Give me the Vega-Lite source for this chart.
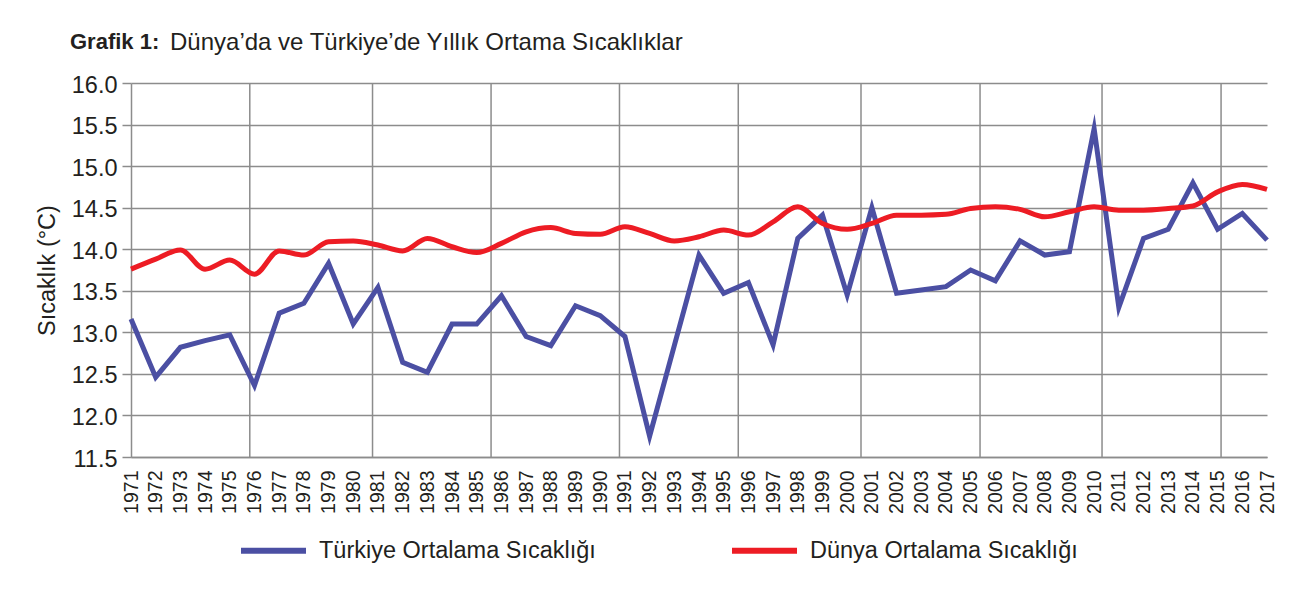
{
  "$schema": "https://vega.github.io/schema/vega-lite/v6.json",
  "width": 1136,
  "height": 374,
  "autosize": {"type": "none"},
  "padding": {"left": 131, "top": 83, "right": 33, "bottom": 133},
  "background": "white",
  "title": {
    "text": "Grafik 1:",
    "subtitle": "\u200b\u00a0\u00a0\u00a0\u00a0\u00a0\u00a0\u00a0\u00a0\u00a0\u00a0\u00a0\u00a0\u00a0\u00a0\u00a0Dünya’da ve Türkiye’de Yıllık Ortama Sıcaklıklar",
    "anchor": "start",
    "frame": "group",
    "dx": -61,
    "dy": -5,
    "font": "Liberation Sans",
    "fontSize": 22,
    "fontWeight": "bold",
    "color": "#231f20",
    "subtitleFont": "Liberation Sans",
    "subtitleFontSize": 24,
    "subtitleFontWeight": "normal",
    "subtitleColor": "#231f20",
    "subtitlePadding": -23.5,
    "baseline": "top",
    "offset": 12
  },
  "config": {
    "view": {"stroke": null},
    "font": "Liberation Sans"
  },
  "data": {
    "values": [
      {"yil": 1971, "tr": 13.16, "dunya": 13.76},
      {"yil": 1972, "tr": 12.46, "dunya": 13.88},
      {"yil": 1973, "tr": 12.82, "dunya": 13.99},
      {"yil": 1974, "tr": 12.90, "dunya": 13.76},
      {"yil": 1975, "tr": 12.97, "dunya": 13.87},
      {"yil": 1976, "tr": 12.36, "dunya": 13.70},
      {"yil": 1977, "tr": 13.23, "dunya": 13.98},
      {"yil": 1978, "tr": 13.35, "dunya": 13.93},
      {"yil": 1979, "tr": 13.83, "dunya": 14.09},
      {"yil": 1980, "tr": 13.10, "dunya": 14.10},
      {"yil": 1981, "tr": 13.54, "dunya": 14.05},
      {"yil": 1982, "tr": 12.64, "dunya": 13.98},
      {"yil": 1983, "tr": 12.52, "dunya": 14.13},
      {"yil": 1984, "tr": 13.10, "dunya": 14.03},
      {"yil": 1985, "tr": 13.10, "dunya": 13.96},
      {"yil": 1986, "tr": 13.44, "dunya": 14.07},
      {"yil": 1987, "tr": 12.95, "dunya": 14.21},
      {"yil": 1988, "tr": 12.84, "dunya": 14.26},
      {"yil": 1989, "tr": 13.32, "dunya": 14.19},
      {"yil": 1990, "tr": 13.20, "dunya": 14.18},
      {"yil": 1991, "tr": 12.95, "dunya": 14.27},
      {"yil": 1992, "tr": 11.75, "dunya": 14.19},
      {"yil": 1993, "tr": 12.84, "dunya": 14.10},
      {"yil": 1994, "tr": 13.93, "dunya": 14.15},
      {"yil": 1995, "tr": 13.47, "dunya": 14.23},
      {"yil": 1996, "tr": 13.60, "dunya": 14.17},
      {"yil": 1997, "tr": 12.85, "dunya": 14.33},
      {"yil": 1998, "tr": 14.13, "dunya": 14.51},
      {"yil": 1999, "tr": 14.41, "dunya": 14.31},
      {"yil": 2000, "tr": 13.45, "dunya": 14.24},
      {"yil": 2001, "tr": 14.50, "dunya": 14.31},
      {"yil": 2002, "tr": 13.47, "dunya": 14.41},
      {"yil": 2003, "tr": 13.51, "dunya": 14.41},
      {"yil": 2004, "tr": 13.55, "dunya": 14.42},
      {"yil": 2005, "tr": 13.75, "dunya": 14.49},
      {"yil": 2006, "tr": 13.62, "dunya": 14.51},
      {"yil": 2007, "tr": 14.10, "dunya": 14.48},
      {"yil": 2008, "tr": 13.93, "dunya": 14.39},
      {"yil": 2009, "tr": 13.97, "dunya": 14.45},
      {"yil": 2010, "tr": 15.45, "dunya": 14.51},
      {"yil": 2011, "tr": 13.30, "dunya": 14.47},
      {"yil": 2012, "tr": 14.13, "dunya": 14.47},
      {"yil": 2013, "tr": 14.24, "dunya": 14.49},
      {"yil": 2014, "tr": 14.80, "dunya": 14.52},
      {"yil": 2015, "tr": 14.24, "dunya": 14.69},
      {"yil": 2016, "tr": 14.43, "dunya": 14.78},
      {"yil": 2017, "tr": 14.11, "dunya": 14.72}
    ]
  },
  "encoding": {
    "x": {
      "field": "yil",
      "type": "quantitative",
      "scale": {"domain": [1971, 2017], "nice": false, "zero": false},
      "axis": {
        "title": null,
        "values": [1971,1972,1973,1974,1975,1976,1977,1978,1979,1980,1981,1982,1983,1984,1985,1986,1987,1988,1989,1990,1991,1992,1993,1994,1995,1996,1997,1998,1999,2000,2001,2002,2003,2004,2005,2006,2007,2008,2009,2010,2011,2012,2013,2014,2015,2016,2017],
        "format": "d",
        "labelAngle": 270,
        "labelAlign": "right",
        "labelBaseline": "middle",
        "labelFontSize": 19.5,
        "labelColor": "#231f20",
        "labelPadding": 13,
        "labelOverlap": false,
        "labelBound": false,
        "labelFlush": false,
        "ticks": false,
        "grid": false,
        "domainColor": "#8c8c8c",
        "domainWidth": 1.5
      }
    }
  },
  "layer": [
    {
      "data": {"values": [{"g": 1975.81}, {"g": 1980.78}, {"g": 1985.58}, {"g": 1990.78}, {"g": 1995.59}, {"g": 2000.56}, {"g": 2005.38}, {"g": 2010.32}, {"g": 2015.14}]},
      "mark": {"type": "rule", "color": "#8c8c8c", "strokeWidth": 1.5},
      "encoding": {"x": {"field": "g", "type": "quantitative"}}
    },
    {
      "mark": {"type": "line", "strokeWidth": 5, "interpolate": "linear", "strokeJoin": "miter", "strokeMiterLimit": 10},
      "encoding": {
        "y": {
          "field": "tr",
          "type": "quantitative",
          "scale": {"domain": [11.5, 16.0], "nice": false, "zero": false},
          "axis": {
            "title": "Sıcaklık (°C)",
            "titleFontSize": 23.5,
            "titleFontWeight": "normal",
            "titleColor": "#231f20",
            "titlePadding": 12,
            "values": [11.5, 12, 12.5, 13, 13.5, 14, 14.5, 15, 15.5, 16],
            "format": ".1f",
            "labelFontSize": 23.5,
            "labelColor": "#231f20",
            "labelPadding": 5,
            "labelOffset": 2,
            "tickSize": 9,
            "tickColor": "#8c8c8c",
            "tickWidth": 1.5,
            "grid": true,
            "gridColor": "#8c8c8c",
            "gridWidth": 1.5,
            "domainColor": "#8c8c8c",
            "domainWidth": 1.5
          }
        },
        "color": {"datum": "Türkiye Ortalama Sıcaklığı"}
      }
    },
    {
      "mark": {"type": "line", "strokeWidth": 5, "interpolate": "monotone"},
      "encoding": {
        "y": {"field": "dunya", "type": "quantitative"},
        "color": {
          "datum": "Dünya Ortalama Sıcaklığı",
          "scale": {"domain": ["Türkiye Ortalama Sıcaklığı", "Dünya Ortalama Sıcaklığı"], "range": ["#4b4fa3", "#ed1c24"]},
          "legend": {
            "title": null,
            "orient": "none",
            "legendX": 107,
            "legendY": 432,
            "direction": "horizontal",
            "columnPadding": 124,
            "labelFontSize": 23.5,
            "labelLimit": 500,
            "labelColor": "#231f20",
            "labelOffset": 10,
            "symbolType": "stroke",
            "symbolSize": 4225,
            "symbolStrokeWidth": 6
          }
        }
      }
    }
  ]
}
